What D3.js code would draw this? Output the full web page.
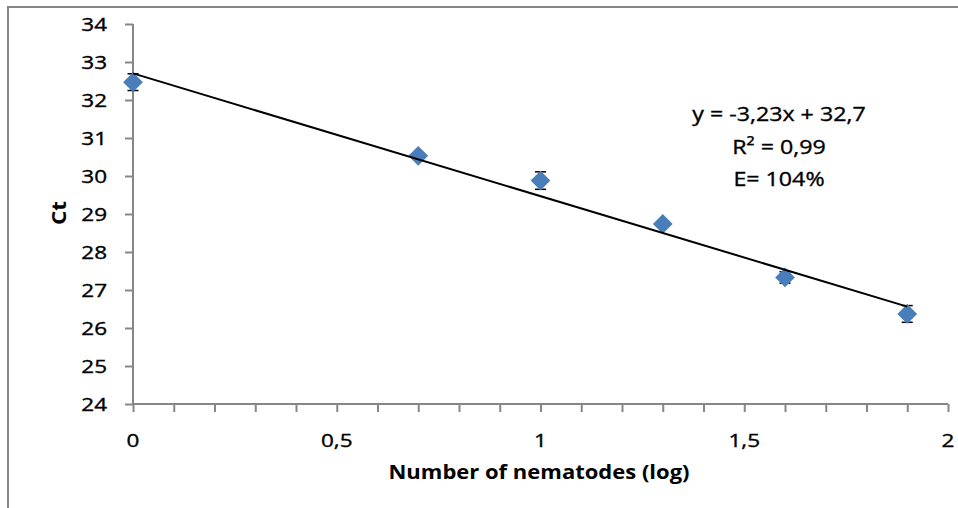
<!DOCTYPE html>
<html>
<head>
<meta charset="utf-8">
<script src="https://cdn.jsdelivr.net/npm/d3@7"></script>
<style>
  html, body { margin: 0; padding: 0; background: #fff; }
  svg { display: block; }
  text { font-family: "Open Sans", Lato, sans-serif; fill: #000; }
  text.reg { stroke: #000; stroke-width: 0.35px; }
</style>
</head>
<body>
<svg id="chart" width="958" height="508"></svg>
<script>
// Standard curve: Ct against log10(number of nematodes)
const logNematodes = [0, 0.7, 1, 1.3, 1.6, 1.9];
const ctMean       = [32.47, 30.53, 29.88, 28.74, 27.33, 26.37];
const ctError      = [0.22, 0.08, 0.23, 0.08, 0.15, 0.22];

// Linear fit shown on the chart
const fitSlope = -3.23;
const fitIntercept = 32.7;
const equationLines = ["y = -3,23x + 32,7", "R² = 0,99", "E= 104%"];

const yTickValues = d3.range(24, 35, 1);
const xMinorTicks = d3.range(0, 21, 1).map(i => i / 10);
const xLabelTicks = [0, 0.5, 1, 1.5, 2];
const xTitle = "Number of nematodes (log)";
const yTitle = "Ct";

const svg = d3.select("#chart");
const axisColor = "#868686";

const x = d3.scaleLinear().domain([0, 2]).range([133, 948]);
const y = d3.scaleLinear().domain([24, 34]).range([404, 24]);
const fmt = v => String(v).replace(".", ",");

// horizontally widened text anchored at (px, py)
function label(parent, px, py, str, opt) {
  const o = Object.assign({ size: 18, sx: 1.25, anchor: "middle", weight: "normal", rotate: 0 }, opt || {});
  return parent.append("text")
    .attr("class", o.weight === "bold" ? "bold" : "reg")
    .attr("transform", `translate(${px},${py}) rotate(${o.rotate}) scale(${o.sx},1)`)
    .attr("text-anchor", o.anchor)
    .style("font-size", o.size + "px")
    .style("font-weight", o.weight)
    .text(str);
}

// chart frame
svg.append("rect")
  .attr("x", 8).attr("y", 7)
  .attr("width", 1000).attr("height", 600)
  .attr("fill", "none")
  .attr("stroke", axisColor)
  .attr("stroke-width", 2);

// y axis
const yAxis = svg.append("g").attr("transform", `translate(${x(0)},0)`)
  .call(d3.axisLeft(y).tickValues(yTickValues).tickSize(8).tickFormat(""));
yAxis.select(".domain").attr("stroke", axisColor).attr("stroke-width", 2).attr("d", `M0,${y(34)}V${y(24)}`);
yAxis.selectAll(".tick line").attr("stroke", axisColor).attr("stroke-width", 2);

// x axis
const xAxis = svg.append("g").attr("transform", `translate(0,${y(24)})`)
  .call(d3.axisBottom(x).tickValues(xMinorTicks).tickSize(8).tickFormat(""));
xAxis.select(".domain").attr("stroke", axisColor).attr("stroke-width", 2).attr("d", `M${x(0)},0H${x(2)}`);
xAxis.selectAll(".tick line").attr("stroke", axisColor).attr("stroke-width", 2);

// tick labels
yTickValues.forEach(v => label(svg, 107, y(v) + 7, fmt(v), { anchor: "end" }));
xLabelTicks.forEach(v => label(svg, x(v), 447, fmt(v)));

// axis titles
label(svg, 539, 479, xTitle, { size: 20, sx: 1.1, weight: "bold" });
label(svg, 66, 213, yTitle, { size: 20, sx: 1.12, weight: "bold", rotate: -90 });

const pts = logNematodes.map((v, i) => ({ x: v, y: ctMean[i], e: ctError[i] }));

// error bars
const eb = svg.append("g").attr("stroke", "#000").attr("stroke-width", 1.5);
pts.forEach(p => {
  const cx = x(p.x), y1 = y(p.y + p.e), y2 = y(p.y - p.e);
  eb.append("line").attr("x1", cx).attr("x2", cx).attr("y1", y1).attr("y2", y2);
  eb.append("line").attr("x1", cx - 5.5).attr("x2", cx + 5.5).attr("y1", y1).attr("y2", y1);
  eb.append("line").attr("x1", cx - 5.5).attr("x2", cx + 5.5).attr("y1", y2).attr("y2", y2);
});

// markers
const diamond = d3.symbol().type(d3.symbolSquare).size(195);
svg.append("g").selectAll("path").data(pts).join("path")
  .attr("d", diamond)
  .attr("transform", d => `translate(${x(d.x)},${y(d.y)}) rotate(45)`)
  .attr("fill", "#4a7ebb");

// trend line
const xFit = d3.extent(logNematodes);
svg.append("line")
  .attr("x1", x(xFit[0])).attr("y1", y(fitIntercept + fitSlope * xFit[0]))
  .attr("x2", x(xFit[1])).attr("y2", y(fitIntercept + fitSlope * xFit[1]))
  .attr("stroke", "#000").attr("stroke-width", 2);

// fit equation
const eqBaselines = [121, 154, 186];
equationLines.forEach((s, i) => label(svg, 779, eqBaselines[i], s, { size: 20, sx: 1.16 }));
</script>
</body>
</html>
